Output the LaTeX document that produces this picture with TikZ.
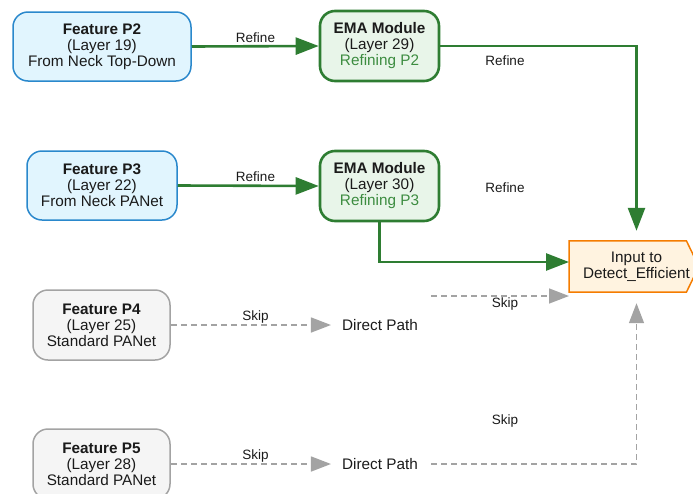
\documentclass[tikz,border=0pt]{standalone}
\usepackage{fontspec}
\setmainfont{Liberation Sans}
\usetikzlibrary{arrows.meta}

\definecolor{bluefill}{HTML}{E1F5FE}
\definecolor{blueline}{HTML}{2A88CC}
\definecolor{greenfill}{HTML}{E8F5E9}
\definecolor{greenline}{HTML}{2E7D32}
\definecolor{greentext}{HTML}{3C8C40}
\definecolor{grayfill}{HTML}{F5F5F5}
\definecolor{grayline}{HTML}{A3A3A3}
\definecolor{orangefill}{HTML}{FFF3E0}
\definecolor{orangeline}{HTML}{F57C00}
\definecolor{inktext}{HTML}{1A1A1A}

\tikzset{
  boxtext/.style={font=\fontsize{15.3}{16}\selectfont, text=inktext, align=center, inner sep=0pt},
  feat/.style={boxtext, rounded corners=15pt, draw=blueline, fill=bluefill, line width=1.5pt},
  ema/.style={boxtext, rounded corners=15pt, draw=greenline, fill=greenfill, line width=2.6pt,
    minimum width=119pt, minimum height=70pt},
  plain/.style={boxtext, rounded corners=15pt, draw=grayline, fill=grayfill, line width=1.5pt,
    minimum width=137pt, minimum height=70pt},
  pathtext/.style={boxtext},
  edgelabel/.style={font=\fontsize{13.5}{14}\selectfont, text=inktext, inner sep=0pt},
  refine/.style={draw=greenline, line width=2.6pt,
    -{Triangle[length=23pt,width=17pt]}},
  skip/.style={draw=grayline, line width=1.5pt, dash pattern=on 6pt off 4pt,
    -{Triangle[length=20pt,width=15pt]}},
}

\begin{document}
\begin{tikzpicture}[x=1pt, y=-1pt]
  \clip (0,0) rectangle (693,493);

  % input features
  \node[feat, minimum width=178pt, minimum height=69pt] (p2) at (102,46.5)
    {\textbf{Feature P2}\\(Layer 19)\\From Neck Top-Down};
  \node[feat, minimum width=150pt, minimum height=69pt] (p3) at (102,185.5)
    {\textbf{Feature P3}\\(Layer 22)\\From Neck PANet};
  \node[plain] (p4) at (101.5,325)
    {\textbf{Feature P4}\\(Layer 25)\\Standard PANet};
  \node[plain] (p5) at (101.5,464)
    {\textbf{Feature P5}\\(Layer 28)\\Standard PANet};

  % attention modules
  \node[ema] (ema1) at (379.5,46)
    {\textbf{EMA Module}\\(Layer 29)\\\textcolor{greentext}{Refining P2}};
  \node[ema] (ema2) at (379.5,186)
    {\textbf{EMA Module}\\(Layer 30)\\\textcolor{greentext}{Refining P3}};

  % pass-through paths
  \node[pathtext] (dp1) at (380,325) {Direct Path};
  \node[pathtext] (dp2) at (380,464) {Direct Path};

  % detection head input (pointed on the right)
  \node[boxtext, minimum width=117pt, minimum height=51pt, anchor=west] (out) at (569,266.5) {};
  \draw[draw=orangeline, fill=orangefill, line width=1.5pt]
    (out.north west) -- (out.north east) -- ([xshift=12.5pt]out.east)
    -- (out.south east) -- (out.south west) -- cycle;
  \node[boxtext] (outtext) at (636.5,266.5) {Input to\\Detect\_Efficient};

  % refine connectors
  \draw[refine] (p2.east) -- (ema1.west);
  \draw[refine] (p3.east) -- (ema2.west);
  \draw[refine, shorten >=10pt] (ema1.east) -| (outtext.center |- out.north);
  \draw[refine] (ema2.south) |- (out.west |- 0,262);

  % skip connectors
  \draw[skip, shorten >=11pt] (p4.east) -- (dp1.west);
  \draw[skip, shorten >=11pt] (p5.east) -- (dp2.west);
  \coordinate (sk1) at (431,296);
  \draw[skip] (sk1) -- (out.west |- sk1);
  \coordinate (sk2) at (431,464);
  \draw[skip, shorten >=11pt] (sk2) -| (outtext.center |- out.south);

  % connector labels
  \node[edgelabel] (l1) at (255.5,38) {Refine};
  \node[edgelabel] (l2) at (255.5,177) {Refine};
  \node[edgelabel] (l3) at (505,60.5) {Refine};
  \node[edgelabel] (l4) at (505,188) {Refine};
  \node[edgelabel] (l5) at (255.5,317) {Skip};
  \node[edgelabel] (l6) at (255.5,456) {Skip};
  \node[edgelabel] (l7) at (505,304) {Skip};
  \node[edgelabel] (l8) at (505,421) {Skip};
\end{tikzpicture}
\end{document}
